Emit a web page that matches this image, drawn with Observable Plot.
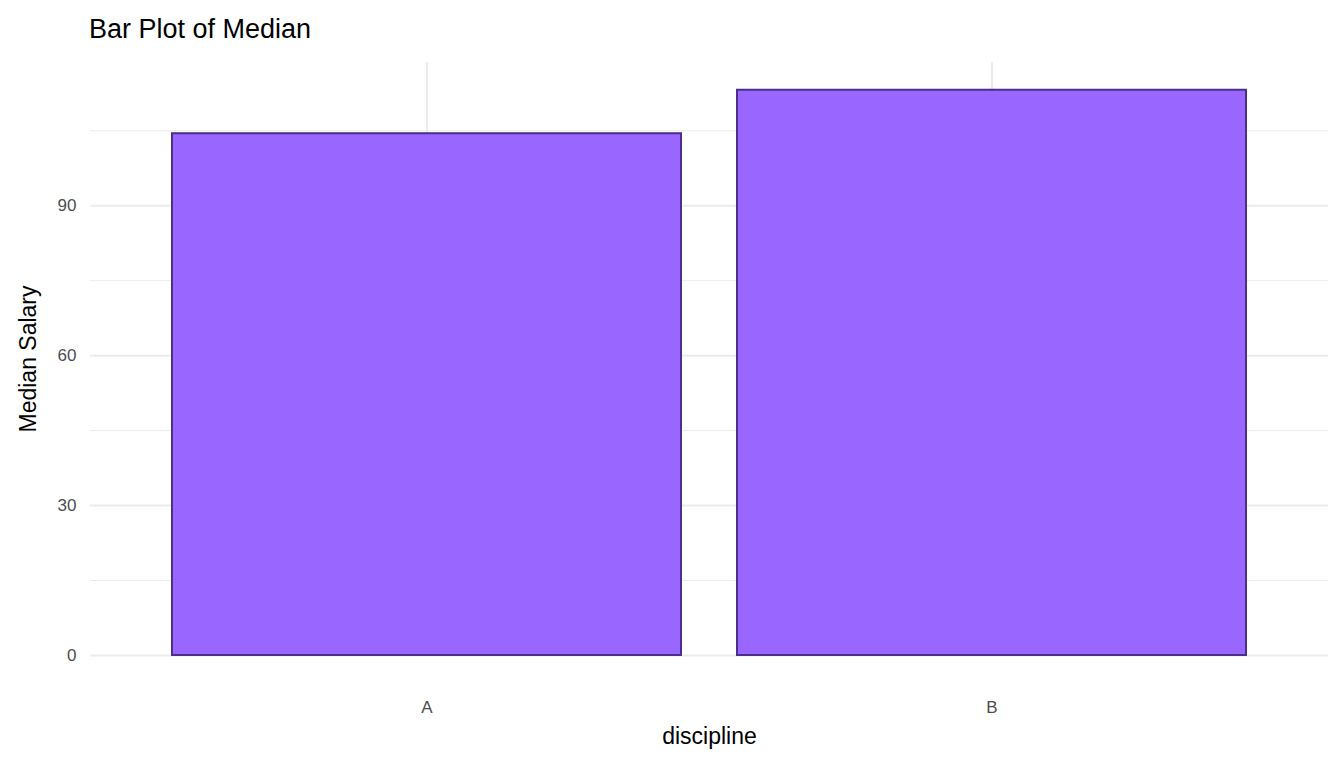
<!DOCTYPE html>
<html>
<head>
<meta charset="utf-8">
<script src="https://cdn.jsdelivr.net/npm/d3@7"></script>
<script src="https://cdn.jsdelivr.net/npm/@observablehq/plot@0.6"></script>
<style>
  body { margin: 0; background: white; font-family: "Liberation Sans", Arial, sans-serif; }
  #title { height: 50px; padding-left: 89px; font-size: 27px; line-height: 58px; color: #000; }
</style>
</head>
<body>
<div id="title">Bar Plot of Median</div>
<div id="chart"></div>
<script>
/* data */
const disciplines = ["A", "B"]
const medians = [104.4, 113.1]
const majorTicks = [0, 30, 60, 90]
const minorTicks = [15, 45, 75, 105]

const data = disciplines.map((d, i) => ({discipline: d, median: medians[i]}))

const chart = Plot.plot({
  width: 1344,
  height: 718,
  marginLeft: 90,
  marginRight: 16,
  marginTop: 12,
  marginBottom: 113,
  style: {fontFamily: "Liberation Sans, Arial, sans-serif", fontSize: "17px"},
  x: {domain: disciplines, paddingInner: 0.1, paddingOuter: 0.145, label: null},
  y: {domain: [0, 118.65], label: null},
  marks: [
    Plot.ruleY(minorTicks, {stroke: "#ebebeb", strokeWidth: 1}),
    Plot.ruleY(majorTicks, {stroke: "#ebebeb", strokeWidth: 2}),
    Plot.ruleX(disciplines, {x: d => d, stroke: "#ebebeb", strokeWidth: 2}),
    Plot.barY(data, {
      x: "discipline",
      y: "median",
      fill: "#9966ff",
      stroke: "#4b2f8a",
      strokeWidth: 2
    }),
    Plot.axisX({tickSize: 0, tickPadding: 45, fill: "#4d4d4d", fontSize: 17, label: null}),
    Plot.axisY({ticks: majorTicks, tickSize: 0, tickPadding: 14, fill: "#4d4d4d", fontSize: 17, label: null}),
    Plot.text(["discipline"], {frameAnchor: "bottom", dy: 88, text: d => d, fontSize: 23, fill: "black"}),
    Plot.text(["Median Salary"], {frameAnchor: "left", textAnchor: "middle", dx: -62, rotate: -90, text: d => d, fontSize: 23, fill: "black"})
  ]
})

d3.select('#chart').append(() => chart)
</script>
</body>
</html>
